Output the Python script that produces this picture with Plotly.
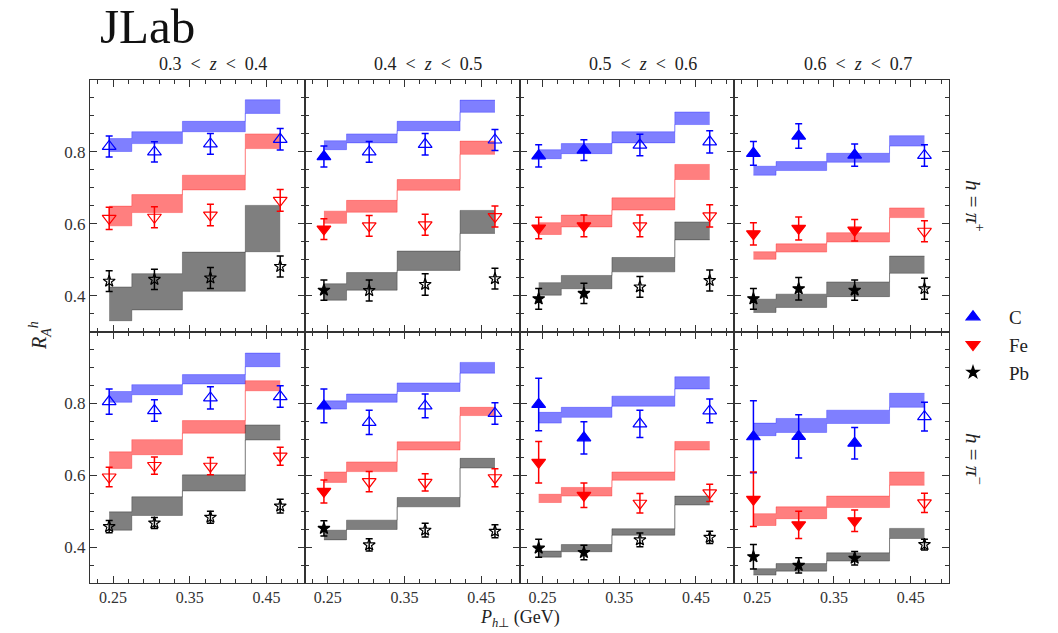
import plotly.graph_objects as go

# ---------------- data ----------------
x_pt = [0.245, 0.304, 0.377, 0.468]
z_labels = ["0.3&nbsp; &lt; &nbsp;<i>z</i>&nbsp; &lt; &nbsp;0.4", "0.4&nbsp; &lt; &nbsp;<i>z</i>&nbsp; &lt; &nbsp;0.5",
            "0.5&nbsp; &lt; &nbsp;<i>z</i>&nbsp; &lt; &nbsp;0.6", "0.6&nbsp; &lt; &nbsp;<i>z</i>&nbsp; &lt; &nbsp;0.7"]
row_labels = ["<i>h</i> = <i>π</i><sup>+</sup>", "<i>h</i> = <i>π</i><sup>−</sup>"]
n_filled = [0, 1, 2, 3]   # number of filled (kinematically valid) points per z bin
x_ticks = [0.25, 0.35, 0.45]
y_ticks = [0.4, 0.6, 0.8]

# pi+ ---------------------------------------------------------------
pip_C_val = [[0.815, 0.800, 0.822, 0.835], [0.787, 0.800, 0.821, 0.833],
             [0.789, 0.805, 0.819, 0.828], [0.796, 0.844, 0.791, 0.790]]
pip_C_err = [[0.029, 0.028, 0.029, 0.030], [0.029, 0.029, 0.030, 0.029],
             [0.031, 0.029, 0.030, 0.031], [0.033, 0.034, 0.031, 0.030]]
pip_C_lo = [[0.801, 0.823, 0.856, 0.907], [0.806, 0.825, 0.859, 0.910],
            [0.781, 0.795, 0.825, 0.876], [0.735, 0.748, 0.771, 0.816]]
pip_C_hi = [[0.837, 0.856, 0.885, 0.945], [0.831, 0.850, 0.885, 0.944],
            [0.806, 0.823, 0.856, 0.911], [0.760, 0.773, 0.796, 0.845]]

pip_Fe_val = [[0.615, 0.618, 0.624, 0.665], [0.585, 0.594, 0.597, 0.620],
              [0.588, 0.594, 0.594, 0.622], [0.572, 0.587, 0.582, 0.579]]
pip_Fe_err = [[0.031, 0.029, 0.030, 0.030], [0.029, 0.029, 0.029, 0.029],
              [0.030, 0.030, 0.030, 0.031], [0.031, 0.032, 0.030, 0.029]]
pip_Fe_lo = [[0.594, 0.631, 0.694, 0.809], [0.601, 0.632, 0.693, 0.793],
             [0.570, 0.591, 0.638, 0.723], [0.501, 0.521, 0.549, 0.617]]
pip_Fe_hi = [[0.649, 0.681, 0.735, 0.850], [0.635, 0.665, 0.723, 0.830],
             [0.603, 0.624, 0.672, 0.765], [0.522, 0.544, 0.575, 0.644]]

pip_Pb_val = [[0.440, 0.445, 0.449, 0.481], [0.415, 0.414, 0.431, 0.447],
              [0.391, 0.406, 0.424, 0.442], [0.391, 0.419, 0.415, 0.419]]
pip_Pb_err = [[0.029, 0.028, 0.029, 0.029], [0.028, 0.029, 0.030, 0.029],
              [0.029, 0.028, 0.029, 0.029], [0.029, 0.031, 0.028, 0.029]]
pip_Pb_lo = [[0.330, 0.360, 0.412, 0.522], [0.387, 0.415, 0.470, 0.573],
             [0.401, 0.419, 0.466, 0.555], [0.353, 0.367, 0.397, 0.462]]
pip_Pb_hi = [[0.424, 0.461, 0.521, 0.651], [0.433, 0.464, 0.524, 0.637],
             [0.436, 0.456, 0.506, 0.605], [0.390, 0.404, 0.438, 0.510]]

# pi- ---------------------------------------------------------------
pim_C_val = [[0.805, 0.780, 0.815, 0.819], [0.793, 0.747, 0.793, 0.772],
             [0.797, 0.704, 0.743, 0.779], [0.707, 0.708, 0.689, 0.763]]
pim_C_err = [[0.035, 0.030, 0.031, 0.030], [0.047, 0.034, 0.033, 0.030],
             [0.073, 0.045, 0.038, 0.033], [0.100, 0.060, 0.044, 0.040]]
pim_C_lo = [[0.803, 0.824, 0.854, 0.902], [0.784, 0.803, 0.833, 0.884],
            [0.745, 0.761, 0.792, 0.840], [0.710, 0.719, 0.744, 0.789]]
pim_C_hi = [[0.833, 0.852, 0.880, 0.940], [0.807, 0.826, 0.857, 0.914],
            [0.775, 0.789, 0.820, 0.874], [0.745, 0.758, 0.781, 0.828]]

pim_Fe_val = [[0.595, 0.627, 0.625, 0.653], [0.555, 0.582, 0.580, 0.593],
              [0.636, 0.544, 0.522, 0.551], [0.533, 0.462, 0.473, 0.523]]
pim_Fe_err = [[0.027, 0.024, 0.024, 0.025], [0.032, 0.028, 0.024, 0.025],
              [0.058, 0.034, 0.027, 0.024], [0.076, 0.038, 0.030, 0.027]]
pim_Fe_lo = [[0.619, 0.657, 0.717, 0.835], [0.580, 0.610, 0.670, 0.766],
             [0.524, 0.542, 0.586, 0.670], [0.460, 0.479, 0.510, 0.572]]
pim_Fe_hi = [[0.665, 0.699, 0.752, 0.863], [0.609, 0.637, 0.693, 0.789],
             [0.547, 0.566, 0.609, 0.694], [0.493, 0.512, 0.542, 0.609]]

pim_Pb_val = [[0.457, 0.467, 0.483, 0.514], [0.452, 0.406, 0.447, 0.444],
              [0.397, 0.385, 0.420, 0.427], [0.373, 0.349, 0.369, 0.407]]
pim_Pb_err = [[0.017, 0.015, 0.017, 0.019], [0.021, 0.017, 0.019, 0.018],
              [0.025, 0.020, 0.019, 0.017], [0.034, 0.021, 0.019, 0.015]]
pim_Pb_lo = [[0.447, 0.488, 0.556, 0.698], [0.420, 0.449, 0.512, 0.620],
             [0.372, 0.387, 0.433, 0.517], [0.322, 0.333, 0.361, 0.424]]
pim_Pb_hi = [[0.498, 0.540, 0.601, 0.740], [0.447, 0.475, 0.538, 0.647],
             [0.389, 0.407, 0.451, 0.542], [0.340, 0.354, 0.384, 0.452]]

# ---------------- styling ----------------
W, H = 1058, 633
FONT = "Liberation Serif"
px_left, px_right = 90, 949
px_top, px_mid, px_bot = 80, 331.5, 583
col_w = (px_right - px_left) / 4

nuclei = [
    dict(name="C", color="blue", band="rgba(0,0,255,0.5)", sym="triangle-up", size=12),
    dict(name="Fe", color="red", band="rgba(255,0,0,0.5)", sym="triangle-down", size=12),
    dict(name="Pb", color="black", band="rgba(0,0,0,0.5)", sym="star", size=9),
]
rows_data = [
    [(pip_C_val, pip_C_err, pip_C_lo, pip_C_hi),
     (pip_Fe_val, pip_Fe_err, pip_Fe_lo, pip_Fe_hi),
     (pip_Pb_val, pip_Pb_err, pip_Pb_lo, pip_Pb_hi)],
    [(pim_C_val, pim_C_err, pim_C_lo, pim_C_hi),
     (pim_Fe_val, pim_Fe_err, pim_Fe_lo, pim_Fe_hi),
     (pim_Pb_val, pim_Pb_err, pim_Pb_lo, pim_Pb_hi)],
]

fig = go.Figure()
layout = dict(
    width=W, height=H, margin=dict(l=0, r=0, t=0, b=0),
    paper_bgcolor="white", plot_bgcolor="white",
    font=dict(family=FONT, size=16, color="#222"),
    showlegend=True,
    legend=dict(x=937 / W, y=1 - 298 / H, xanchor="left", yanchor="top",
                font=dict(family=FONT, size=19, color="#222"), traceorder="normal",
                bgcolor="rgba(0,0,0,0)", tracegroupgap=4, itemwidth=62),
)

row_px = [(px_top, px_mid), (px_mid, px_bot)]
for r in range(2):
    for c in range(4):
        k = r * 4 + c + 1
        xs = "" if k == 1 else str(k)
        x0 = px_left + c * col_w
        x1 = x0 + col_w
        yt, yb = row_px[r]
        layout["xaxis" + xs] = dict(
            domain=[x0 / W, x1 / W], anchor="y" + xs, range=[0.22, 0.50],
            showgrid=False, zeroline=False, showline=True, linecolor="#333", linewidth=1,
            mirror="allticks", ticks="inside", ticklen=7, tickcolor="#333",
            tickvals=x_ticks, ticktext=[f"{v:.2f}" for v in x_ticks],
            showticklabels=(r == 1),
            tickfont=dict(family=FONT, size=16, color="#333"),
            minor=dict(ticks="inside", ticklen=4, tick0=0.25, dtick=0.02, tickcolor="#333"),
        )
        layout["yaxis" + xs] = dict(
            domain=[1 - yb / H, 1 - yt / H], anchor="x" + xs, range=[0.30, 1.00],
            showgrid=False, zeroline=False, showline=True, linecolor="#333", linewidth=1,
            mirror="allticks", ticks="inside", ticklen=7, tickcolor="#333",
            tickvals=y_ticks, ticktext=[f"{v:.1f}" for v in y_ticks],
            showticklabels=(c == 0),
            tickfont=dict(family=FONT, size=17, color="#333"),
            minor=dict(ticks="inside", ticklen=4, tick0=0.3, dtick=0.05, tickcolor="#333"),
        )
        xa, ya = "x" + xs, "y" + xs
        # bands
        for n, (val, err, lo, hi) in zip(nuclei, rows_data[r]):
            fig.add_trace(go.Scatter(x=x_pt, y=lo[c], mode="lines", line=dict(shape="hvh", width=0.6, color=n["band"]),
                                     xaxis=xa, yaxis=ya, showlegend=False, hoverinfo="skip",
                                     legendgroup=n["name"]))
            fig.add_trace(go.Scatter(x=x_pt, y=hi[c], mode="lines", line=dict(shape="hvh", width=0.6, color=n["band"]),
                                     fill="tonexty", fillcolor=n["band"],
                                     xaxis=xa, yaxis=ya, showlegend=False, hoverinfo="skip",
                                     legendgroup=n["name"]))
        # points
        for n, (val, err, lo, hi) in zip(nuclei, rows_data[r]):
            syms = [n["sym"] if i < n_filled[c] else n["sym"] + "-open" for i in range(len(x_pt))]
            fig.add_trace(go.Scatter(
                x=x_pt, y=val[c], mode="markers", name=n["name"], legendgroup=n["name"],
                marker=dict(symbol=syms, size=n["size"], color=n["color"],
                            line=dict(color=n["color"], width=1.2)),
                error_y=dict(type="data", array=err[c], color=n["color"], thickness=1.5, width=3.5),
                xaxis=xa, yaxis=ya, showlegend=(r == 0 and c == 3),
            ))

def ann(text, px, py, size, angle=0, color="#222"):
    return dict(text=text, x=px / W, y=1 - py / H, xref="paper", yref="paper",
                xanchor="center", yanchor="middle", textangle=angle, showarrow=False,
                font=dict(family=FONT, size=size, color=color))

annotations = [
    dict(text="JLab", x=98 / W, y=1 - 27 / H, xref="paper", yref="paper", xanchor="left",
         yanchor="middle", showarrow=False, font=dict(family=FONT, size=49, color="#111")),
    ann("<i>R</i><sub><i>A</i></sub><sup><i>h</i></sup>", 40, 336, 20, angle=-90),
    ann("<i>P</i><sub><i>h</i>⊥</sub> (GeV)", 520, 618, 18),
]
for c in range(4):
    cx = px_left + (c + 0.5) * col_w + 16
    annotations.append(ann(z_labels[c], cx, 64, 18))
for r, cy in enumerate([206, 459]):
    annotations.append(ann(row_labels[r], 975, cy, 21, angle=90))
layout["annotations"] = annotations
fig.update_layout(**layout)
fig.write_html("out.html")
